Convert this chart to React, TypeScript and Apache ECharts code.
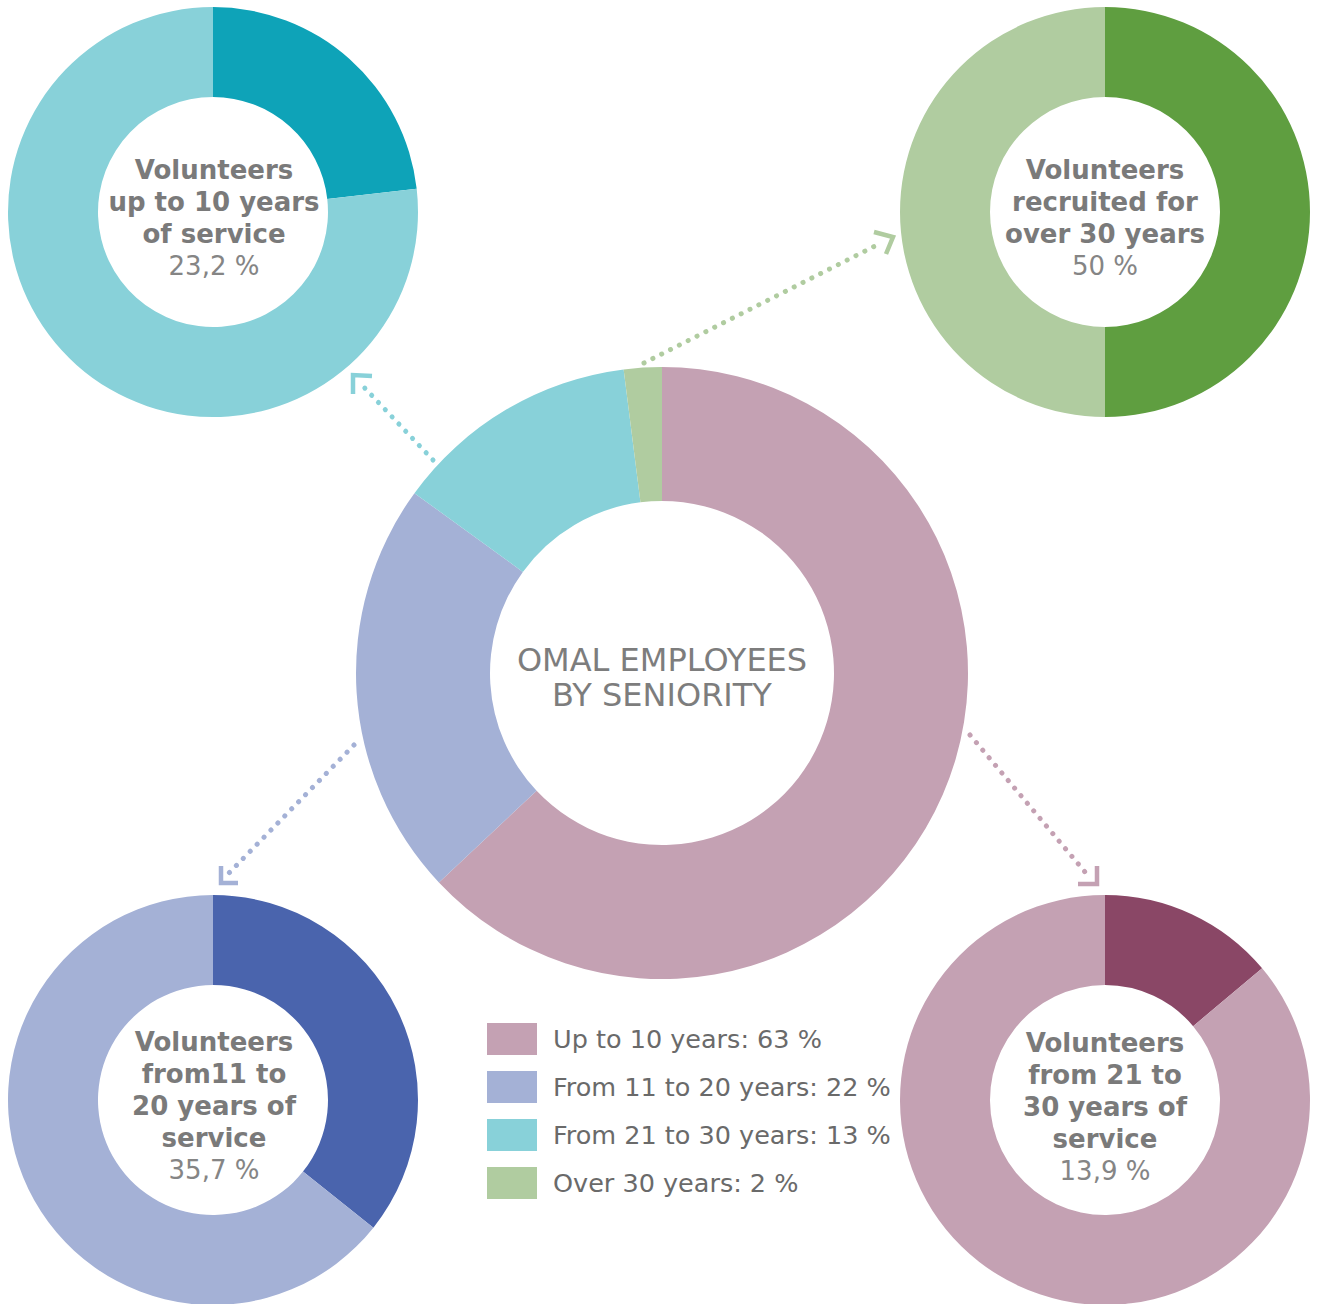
import React, { useEffect, useRef } from "react";
import * as echarts from "echarts";

const mainNames = ["Up to 10 years", "From 11 to 20 years", "From 21 to 30 years", "Over 30 years"];
const mainValues = [63, 22, 13, 2];
const mainColors = ["#c4a1b3", "#a4b1d6", "#88d1d9", "#b0cca0"];

const topLeftValues = [23.2, 76.8];
const topRightValues = [50, 50];
const bottomLeftValues = [35.7, 64.3];
const bottomRightValues = [13.9, 86.1];

const topLeftLabel = ["Volunteers", "up to 10 years", "of service"];
const topRightLabel = ["Volunteers", "recruited for", "over 30 years"];
const bottomLeftLabel = ["Volunteers", "from11 to", "20 years of", "service"];
const bottomRightLabel = ["Volunteers", "from 21 to", "30 years of", "service"];
const topLeftPct = "23,2 %";
const topRightPct = "50 %";
const bottomLeftPct = "35,7 %";
const bottomRightPct = "13,9 %";

const FONT = "DejaVu Sans";
const GRAY = "#7a7a7a";

function smallPie(id: string, center: number[], values: number[], colors: string[]) {
  return {
    type: "pie",
    id,
    center,
    radius: [115, 205],
    startAngle: 90,
    clockwise: true,
    silent: true,
    label: { show: false },
    labelLine: { show: false },
    emphasis: { disabled: true },
    data: values.map((v, i) => ({ name: id + "_" + i, value: v, itemStyle: { color: colors[i] } })),
  };
}

function centerTexts(cx: number, y0: number, lines: string[], pct: string) {
  const els: any[] = [];
  lines.forEach((l, i) => {
    els.push({
      type: "text",
      x: cx,
      y: y0 + i * 32,
      style: {
        text: l,
        fill: GRAY,
        font: `bold 26px "${FONT}"`,
        textAlign: "center",
        textVerticalAlign: "middle",
      },
    });
  });
  els.push({
    type: "text",
    x: cx,
    y: y0 + lines.length * 32,
    style: {
      text: pct,
      fill: "#858585",
      font: `normal 26px "${FONT}"`,
      textAlign: "center",
      textVerticalAlign: "middle",
    },
  });
  return els;
}

function arrow(color: string, line: number[][], head: number[][]) {
  return [
    {
      type: "polyline",
      shape: { points: line },
      style: { stroke: color, lineWidth: 5, lineDash: [0.1, 9.8], lineCap: "round", fill: null },
    },
    {
      type: "polyline",
      shape: { points: head },
      style: { stroke: color, lineWidth: 4.5, lineCap: "butt", lineJoin: "miter", fill: null },
    },
  ];
}

export default function App() {
  const ref = useRef<HTMLDivElement>(null);
  useEffect(() => {
    if (!ref.current) return;
    const chart = echarts.init(ref.current, null, { renderer: "svg" });
    const option: any = {
      animation: false,
      backgroundColor: "#ffffff",
      legend: {
        data: mainNames,
        orient: "vertical",
        left: 487,
        top: 1023,
        padding: 0,
        itemWidth: 50,
        itemHeight: 32,
        itemGap: 16,
        icon: "rect",
        selectedMode: false,
        formatter: (name: string) => {
          const i = mainNames.indexOf(name);
          return `${name}: ${mainValues[i]} %`;
        },
        textStyle: { fontSize: 25.5, color: "#6a6a6a", fontFamily: FONT, padding: [7, 0, 0, 11] },
      },
      series: [
        {
          type: "pie",
          id: "main",
          center: [662, 673],
          radius: [172, 306],
          startAngle: 90,
          clockwise: true,
          silent: true,
          label: { show: false },
          labelLine: { show: false },
          emphasis: { disabled: true },
          data: mainNames.map((n, i) => ({ name: n, value: mainValues[i], itemStyle: { color: mainColors[i] } })),
        },
        smallPie("tl", [213, 212], topLeftValues, ["#0ea3b8", "#88d1d9"]),
        smallPie("tr", [1105, 212], topRightValues, ["#5f9e40", "#b0cca0"]),
        smallPie("bl", [213, 1100], bottomLeftValues, ["#4a64ad", "#a4b1d6"]),
        smallPie("br", [1105, 1100], bottomRightValues, ["#8a4766", "#c4a1b3"]),
      ],
      graphic: {
        elements: [
          {
            type: "text",
            x: 662,
            y: 660,
            style: { text: "OMAL EMPLOYEES", fill: "#7d7d7d", font: `normal 32px "${FONT}"`, textAlign: "center", textVerticalAlign: "middle" },
          },
          {
            type: "text",
            x: 662,
            y: 695,
            style: { text: "BY SENIORITY", fill: "#7d7d7d", font: `normal 32px "${FONT}"`, textAlign: "center", textVerticalAlign: "middle" },
          },
          ...centerTexts(214, 170, topLeftLabel, topLeftPct),
          ...centerTexts(1105, 170, topRightLabel, topRightPct),
          ...centerTexts(214, 1042, bottomLeftLabel, bottomLeftPct),
          ...centerTexts(1105, 1043, bottomRightLabel, bottomRightPct),
          ...arrow("#88d1d9", [[433, 460], [360, 383]], [[372, 376], [353, 375], [353, 394]]),
          ...arrow("#b0cca0", [[644, 363], [879, 244]], [[874, 232], [893, 237], [886, 254]]),
          ...arrow("#a4b1d6", [[354, 745], [228, 874]], [[221, 866], [221, 883], [238, 883]]),
          ...arrow("#c4a1b3", [[970, 735], [1085, 872]], [[1097, 866], [1097, 884], [1078, 884]]),
        ],
      },
    };
    chart.setOption(option);
    return () => chart.dispose();
  }, []);
  return <div ref={ref} style={{ position: "absolute", left: 0, top: 0, width: 1319, height: 1304 }} />;
}
